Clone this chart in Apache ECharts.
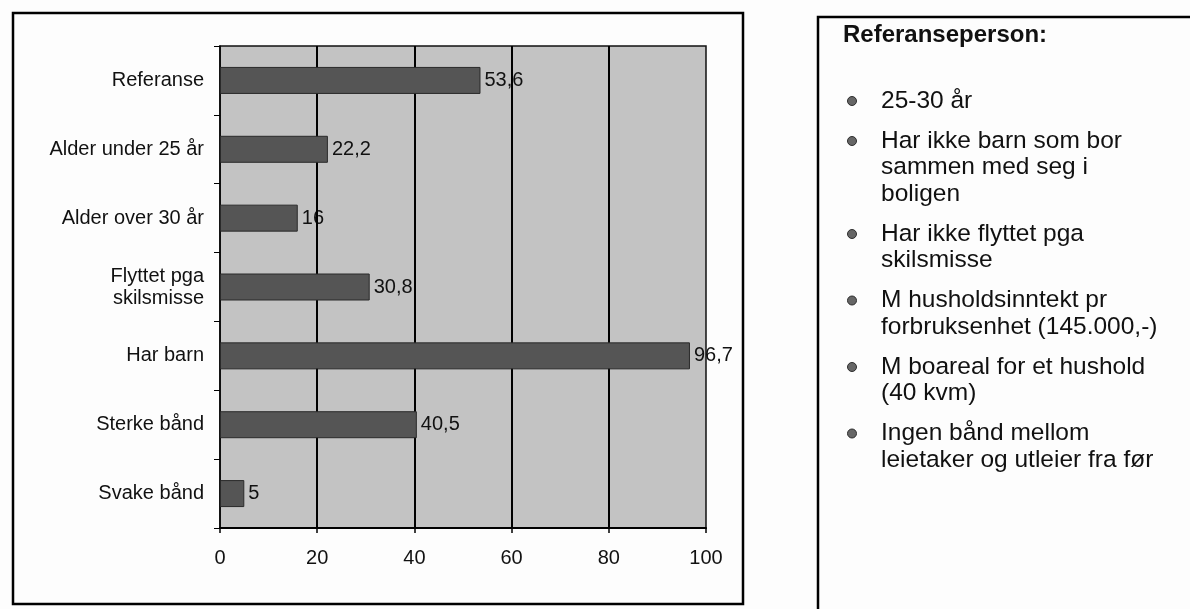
<!DOCTYPE html>
<html>
<head>
<meta charset="utf-8">
<script src="https://cdn.jsdelivr.net/npm/echarts@6/dist/echarts.min.js"></script>
<style>
  html, body { margin: 0; padding: 0; background: #fdfdfd; }
  #chart { width: 1190px; height: 609px; }
</style>
</head>
<body>
<div id="chart"></div>
<script>
// Categories (top to bottom) and their percentages
const categories = [
  'Referanse',
  'Alder under 25 år',
  'Alder over 30 år',
  'Flyttet pga\nskilsmisse',
  'Har barn',
  'Sterke bånd',
  'Svake bånd'
];
const values = [53.6, 22.2, 16, 30.8, 96.7, 40.5, 5];
const gridValues = [20, 40, 60, 80];

// Side panel text
const panelTitle = 'Referanseperson:';
const panelItems = [
  '25-30 år',
  'Har ikke barn som bor\nsammen med seg i\nboligen',
  'Har ikke flyttet pga\nskilsmisse',
  'M husholdsinntekt pr\nforbruksenhet (145.000,-)',
  'M boareal for et hushold\n(40 kvm)',
  'Ingen bånd mellom\nleietaker og utleier fra før'
];

const FONT = '"Liberation Sans", Arial, Helvetica, sans-serif';
const fmt = v => String(v).replace('.', ',');

// Build side panel graphics
const panelGraphics = [];
const lineH = 26.5, paraGap = 40;
let cy = 101;
panelItems.forEach(txt => {
  const n = txt.split('\n').length;
  panelGraphics.push({
    type: 'circle',
    shape: { cx: 852, cy: cy, r: 4.5 },
    style: { fill: '#666', stroke: '#2e2e2e', lineWidth: 1 }
  });
  panelGraphics.push({
    type: 'text',
    x: 881,
    y: cy - lineH / 2,
    style: {
      text: txt,
      font: '24.5px ' + FONT,
      fill: '#111',
      lineHeight: lineH,
      verticalAlign: 'top'
    }
  });
  cy += (n - 1) * lineH + paraGap;
});

const chart = echarts.init(document.getElementById('chart'));
chart.setOption({
  backgroundColor: '#fdfdfd',
  animation: false,
  grid: {
    left: 220, top: 46, right: 484, bottom: 81,
    show: true,
    backgroundColor: '#c3c3c3',
    borderColor: '#111',
    borderWidth: 1.5
  },
  xAxis: {
    type: 'value',
    min: 0, max: 100, interval: 20,
    axisLine: { show: true, lineStyle: { color: '#000', width: 2 } },
    axisTick: { show: true, length: 5, lineStyle: { color: '#000', width: 1.5 } },
    axisLabel: { margin: 20, fontSize: 20, color: '#111', fontFamily: FONT },
    splitLine: { show: false }
  },
  yAxis: {
    type: 'category',
    inverse: true,
    data: categories,
    axisLine: { show: true, lineStyle: { color: '#000', width: 1.5 } },
    axisTick: { show: true, length: 6, lineStyle: { color: '#000', width: 1 } },
    axisLabel: {
      margin: 16, fontSize: 20, color: '#111', fontFamily: FONT,
      lineHeight: 22, align: 'right'
    }
  },
  series: [
    {
      // value labels sit beneath the vertical grid lines
      type: 'bar',
      data: values,
      barWidth: 27,
      z: 1,
      itemStyle: { color: 'rgba(0,0,0,0)' },
      label: {
        show: true, position: 'right', distance: 4,
        fontSize: 20, color: '#111', fontFamily: FONT,
        formatter: p => fmt(p.value)
      },
      markLine: {
        z: 2,
        silent: true,
        symbol: ['none', 'none'],
        label: { show: false },
        lineStyle: { color: '#000', width: 2, type: 'solid' },
        data: gridValues.map(v => ({ xAxis: v }))
      }
    },
    {
      type: 'bar',
      data: values,
      barWidth: 27,
      barGap: '-100%',
      z: 4,
      itemStyle: { color: '#555555', borderColor: '#2a2a2a', borderWidth: 1 }
    }
  ],
  graphic: [
    {
      type: 'rect',
      shape: { x: 13, y: 13, width: 730, height: 591 },
      style: { fill: 'none', stroke: '#000', lineWidth: 2.5 }
    },
    {
      type: 'rect',
      shape: { x: 818, y: 17, width: 420, height: 640 },
      style: { fill: 'none', stroke: '#000', lineWidth: 2.5 }
    },
    {
      type: 'text',
      x: 843, y: 35,
      style: {
        text: panelTitle,
        font: 'bold 24px ' + FONT,
        fill: '#111',
        verticalAlign: 'middle'
      }
    }
  ].concat(panelGraphics)
});
</script>
</body>
</html>
